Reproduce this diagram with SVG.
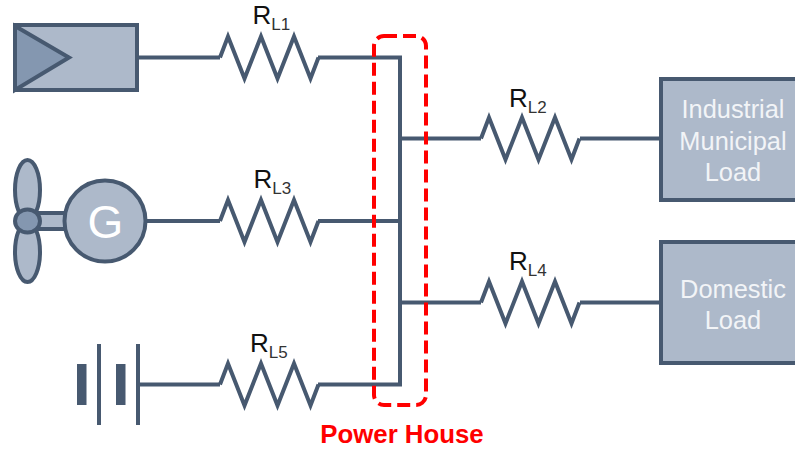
<svg xmlns="http://www.w3.org/2000/svg" width="795" height="450" viewBox="0 0 795 450">
<style>
text{font-family:"Liberation Sans",Arial,sans-serif}
.w{fill:none;stroke:#475970;stroke-width:4;stroke-linejoin:miter}
.s{fill:#adb9ca;stroke:#475970;stroke-width:4}
.d{fill:#8497b0;stroke:#475970;stroke-width:4}
.r{font-size:26px;fill:#111}
.r tspan{font-size:17px;fill:#333}
.l{font-size:25.4px;fill:#f2f4f7;text-anchor:middle}
</style>
<defs>
<path id="res" class="w" d="M0 0l8-21 16.500 42 16.500-42 16.500 42 16.500-42 16.500 42 8-21"/>
</defs>
<g id="connectors">
<path class="w" d="M139 57.500H220M318 57.500H400M400 55.500V386.500M146 221H220M318 221H400M138 384.500H220M318 384.500H400M400 138.500H481M580 138.500H660M400 302.500H481M580 302.500H660"/>
<use href="#res" x="220" y="57.500"/>
<use href="#res" x="220" y="221"/>
<use href="#res" x="220" y="384.500"/>
<use href="#res" x="481" y="138.500"/>
<use href="#res" x="481" y="302.500"/>
</g>
<g id="solar">
<rect class="s" x="15" y="25" width="122" height="65"/>
<path class="d" d="M15 26L69 57.500 15 90Z"/>
</g>
<g id="wind-generator">
<ellipse class="s" cx="27.500" cy="190" rx="12.500" ry="30"/>
<ellipse class="s" cx="27.500" cy="252" rx="12.500" ry="30"/>
<rect class="s" x="38" y="213" width="28" height="16"/>
<ellipse class="d" cx="27.500" cy="221" rx="12.500" ry="11.500"/>
<circle class="s" cx="105" cy="221" r="40.500"/>
<text x="105.500" y="238" font-size="46" fill="#fff" text-anchor="middle">G</text>
</g>
<g id="battery">
<rect x="77" y="364" width="9.500" height="41" fill="#475970"/>
<rect x="116" y="364" width="9.500" height="41" fill="#475970"/>
<rect x="97" y="344" width="4" height="81" fill="#475970"/>
<rect x="136" y="344" width="4" height="81" fill="#475970"/>
</g>
<g id="load-industrial">
<rect class="s" x="661" y="79" width="140" height="121"/>
<text class="l" x="733" y="118">Industrial</text>
<text class="l" x="733" y="149.500">Municipal</text>
<text class="l" x="733" y="181">Load</text>
</g>
<g id="load-domestic">
<rect class="s" x="661" y="242" width="140" height="121"/>
<text class="l" x="733" y="298">Domestic</text>
<text class="l" x="733" y="329">Load</text>
</g>
<g id="labels">
<text class="r" x="252.500" y="24">R<tspan dy="6">L1</tspan></text>
<text class="r" x="253.500" y="188">R<tspan dy="6">L3</tspan></text>
<text class="r" x="250" y="352">R<tspan dy="6">L5</tspan></text>
<text class="r" x="509" y="107">R<tspan dy="6">L2</tspan></text>
<text class="r" x="509" y="270">R<tspan dy="6">L4</tspan></text>
</g>
<g id="power-house">
<rect x="374" y="36" width="52" height="369" rx="10" ry="10" fill="none" stroke="#ff0000" stroke-width="4" stroke-dasharray="13 6"/>
<text x="402" y="443" font-size="25.800" font-weight="700" fill="#ff0000" text-anchor="middle">Power House</text>
</g>
</svg>
